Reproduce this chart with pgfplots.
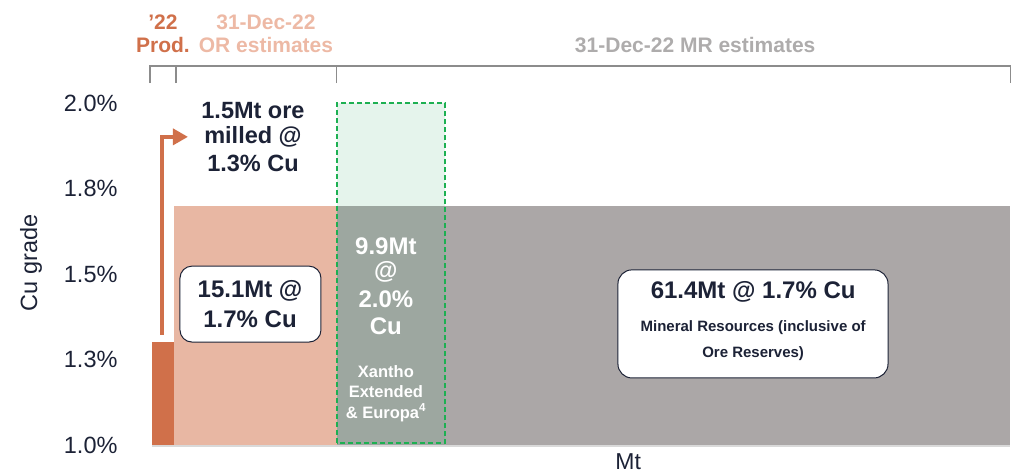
\documentclass[border=0pt]{standalone}
\usepackage{pgfplots}
\pgfplotsset{compat=1.18}
\usetikzlibrary{arrows.meta}
\usepackage{fontspec}
\setmainfont{Liberation Sans}
\definecolor{prodc}{HTML}{D0704A}
\definecolor{orc}{HTML}{E8B7A3}
\definecolor{orhead}{HTML}{EDB9A5}
\definecolor{mrc}{HTML}{ABA7A7}
\definecolor{mrhead}{HTML}{AEACAC}
\definecolor{lgreen}{HTML}{E5F4EC}
\definecolor{ggreen}{HTML}{9DA7A0}
\definecolor{dgreen}{HTML}{1DB052}
\definecolor{ink}{HTML}{1C2236}
\definecolor{brk}{HTML}{8C8C8C}
\newcommand{\fs}[2]{\fontsize{#1bp}{#2bp}\selectfont}

\begin{document}
\begin{tikzpicture}
\begin{axis}[name=ax, scale only axis, width=858bp, height=342bp,
    xmin=0, xmax=78.5, ymin=1, ymax=2, clip=false,
    axis line style={draw=none}, major tick length=0pt,
    xtick=\empty, ytick={1,1.25,1.5,1.75,2},
    yticklabels={1.0\%,1.3\%,1.5\%,1.8\%,2.0\%},
    yticklabel style={font=\fs{23.5}{27}, text=ink, xshift=-31bp},
    ylabel={Cu grade},
    ylabel style={at={(axis description cs:-0.141,0.532)}, anchor=center, font=\fs{23.5}{27}, text=ink},
    xlabel={Mt},
    xlabel style={at={(axis description cs:0.555,-0.05)}, anchor=center, font=\fs{23}{26}, text=ink},
]
% MR estimates (61.4Mt + OR 15.1Mt) @ 1.7%
\addplot[fill=mrc, draw=none] coordinates {(2,1) (2,1.7) (78.5,1.7) (78.5,1)};
% OR estimates 15.1Mt @ 1.7%
\addplot[fill=orc, draw=none] coordinates {(2,1) (2,1.7) (16.9,1.7) (16.9,1)};
% '22 production 1.5Mt @ 1.3%
\addplot[fill=prodc, draw=none] coordinates {(0,1) (0,1.3) (2,1.3) (2,1)};
% Xantho Extended & Europa 9.9Mt @ 2.0%
\addplot[fill=lgreen, draw=none] coordinates {(16.9,1.7) (16.9,2) (26.8,2) (26.8,1.7)};
\addplot[fill=ggreen, draw=none] coordinates {(16.9,1) (16.9,1.7) (26.8,1.7) (26.8,1)};
\addplot[draw=dgreen, line width=1.8bp, dash pattern=on 5bp off 3bp]
    coordinates {(16.9,1.006) (16.9,2) (26.8,2) (26.8,1.006) (16.9,1.006)};

% baseline
\draw[black!15, line width=2bp] (axis cs:0,0.996) -- (axis cs:78.5,0.996);

% header brackets
\draw[brk, line width=1.2bp] (axis cs:-0.18,2.058) -- (axis cs:-0.18,2.108)
    -- (axis cs:78.55,2.108) -- (axis cs:78.55,2.058);
\draw[brk, line width=1.2bp] (axis cs:2.2,2.058) -- (axis cs:2.2,2.108);
\draw[brk, line width=1.2bp] (axis cs:16.9,2.058) -- (axis cs:16.9,2.108);
\node[font=\bfseries\fs{21}{23}, text=prodc, align=center] at (axis cs:1.0,2.203) {’22\\Prod.};
\node[font=\bfseries\fs{21}{23}, text=orhead, align=center] at (axis cs:10.43,2.203) {31-Dec-22\\OR estimates};
\node[font=\bfseries\fs{21}{23}, text=mrhead] at (axis cs:49.7,2.17) {31-Dec-22 MR estimates};

% production arrow and text
\draw[prodc, line width=3.5bp, -{Triangle[length=15bp,width=16bp]}]
    (axis cs:0.915,1.322) |- (axis cs:3.29,1.901);
\node[font=\bfseries\fs{23.5}{26}, text=ink] at (axis cs:9.24,1.977) {1.5Mt ore};
\node[font=\bfseries\fs{23.5}{26}, text=ink] at (axis cs:9.24,1.901) {milled @};
\node[font=\bfseries\fs{23.5}{26}, text=ink] at (axis cs:9.24,1.822) {1.3\% Cu};

% OR box
\draw[ink, fill=white, line width=1bp, rounded corners=12bp] (axis cs:2.56,1.301) rectangle (axis cs:15.46,1.523);
\node[font=\bfseries\fs{24}{26}, text=ink] at (axis cs:8.97,1.450) {15.1Mt @};
\node[font=\bfseries\fs{24}{26}, text=ink] at (axis cs:8.97,1.368) {1.7\% Cu};

% Xantho text
\node[font=\bfseries\fs{24}{26}, text=white] at (axis cs:21.4,1.582) {9.9Mt};
\node[font=\bfseries\fs{24}{26}, text=white] at (axis cs:21.4,1.506) {@};
\node[font=\bfseries\fs{24}{26}, text=white] at (axis cs:21.4,1.427) {2.0\%};
\node[font=\bfseries\fs{24}{26}, text=white] at (axis cs:21.4,1.348) {Cu};
\node[font=\bfseries\fs{16.5}{18}, text=white] at (axis cs:21.4,1.216) {Xantho};
\node[font=\bfseries\fs{16.5}{18}, text=white] at (axis cs:21.4,1.155) {Extended};
\node[font=\bfseries\fs{16.5}{18}, text=white] at (axis cs:21.4,1.094) {\& Europa\textsuperscript{4}};

% MR box
\draw[ink, fill=white, line width=1bp, rounded corners=14bp] (axis cs:42.63,1.196) rectangle (axis cs:67.34,1.512);
\node[font=\bfseries\fs{24}{26}, text=ink] at (axis cs:55,1.447) {61.4Mt @ 1.7\% Cu};
\node[font=\bfseries\fs{15}{18}, text=ink] at (axis cs:55,1.342) {Mineral Resources (inclusive of};
\node[font=\bfseries\fs{15}{18}, text=ink] at (axis cs:55,1.266) {Ore Reserves)};
\end{axis}
\path[use as bounding box] ([xshift=-152bp,yshift=-27bp]ax.south west) rectangle ([xshift=17bp,yshift=103bp]ax.north east);
\end{tikzpicture}
\end{document}
